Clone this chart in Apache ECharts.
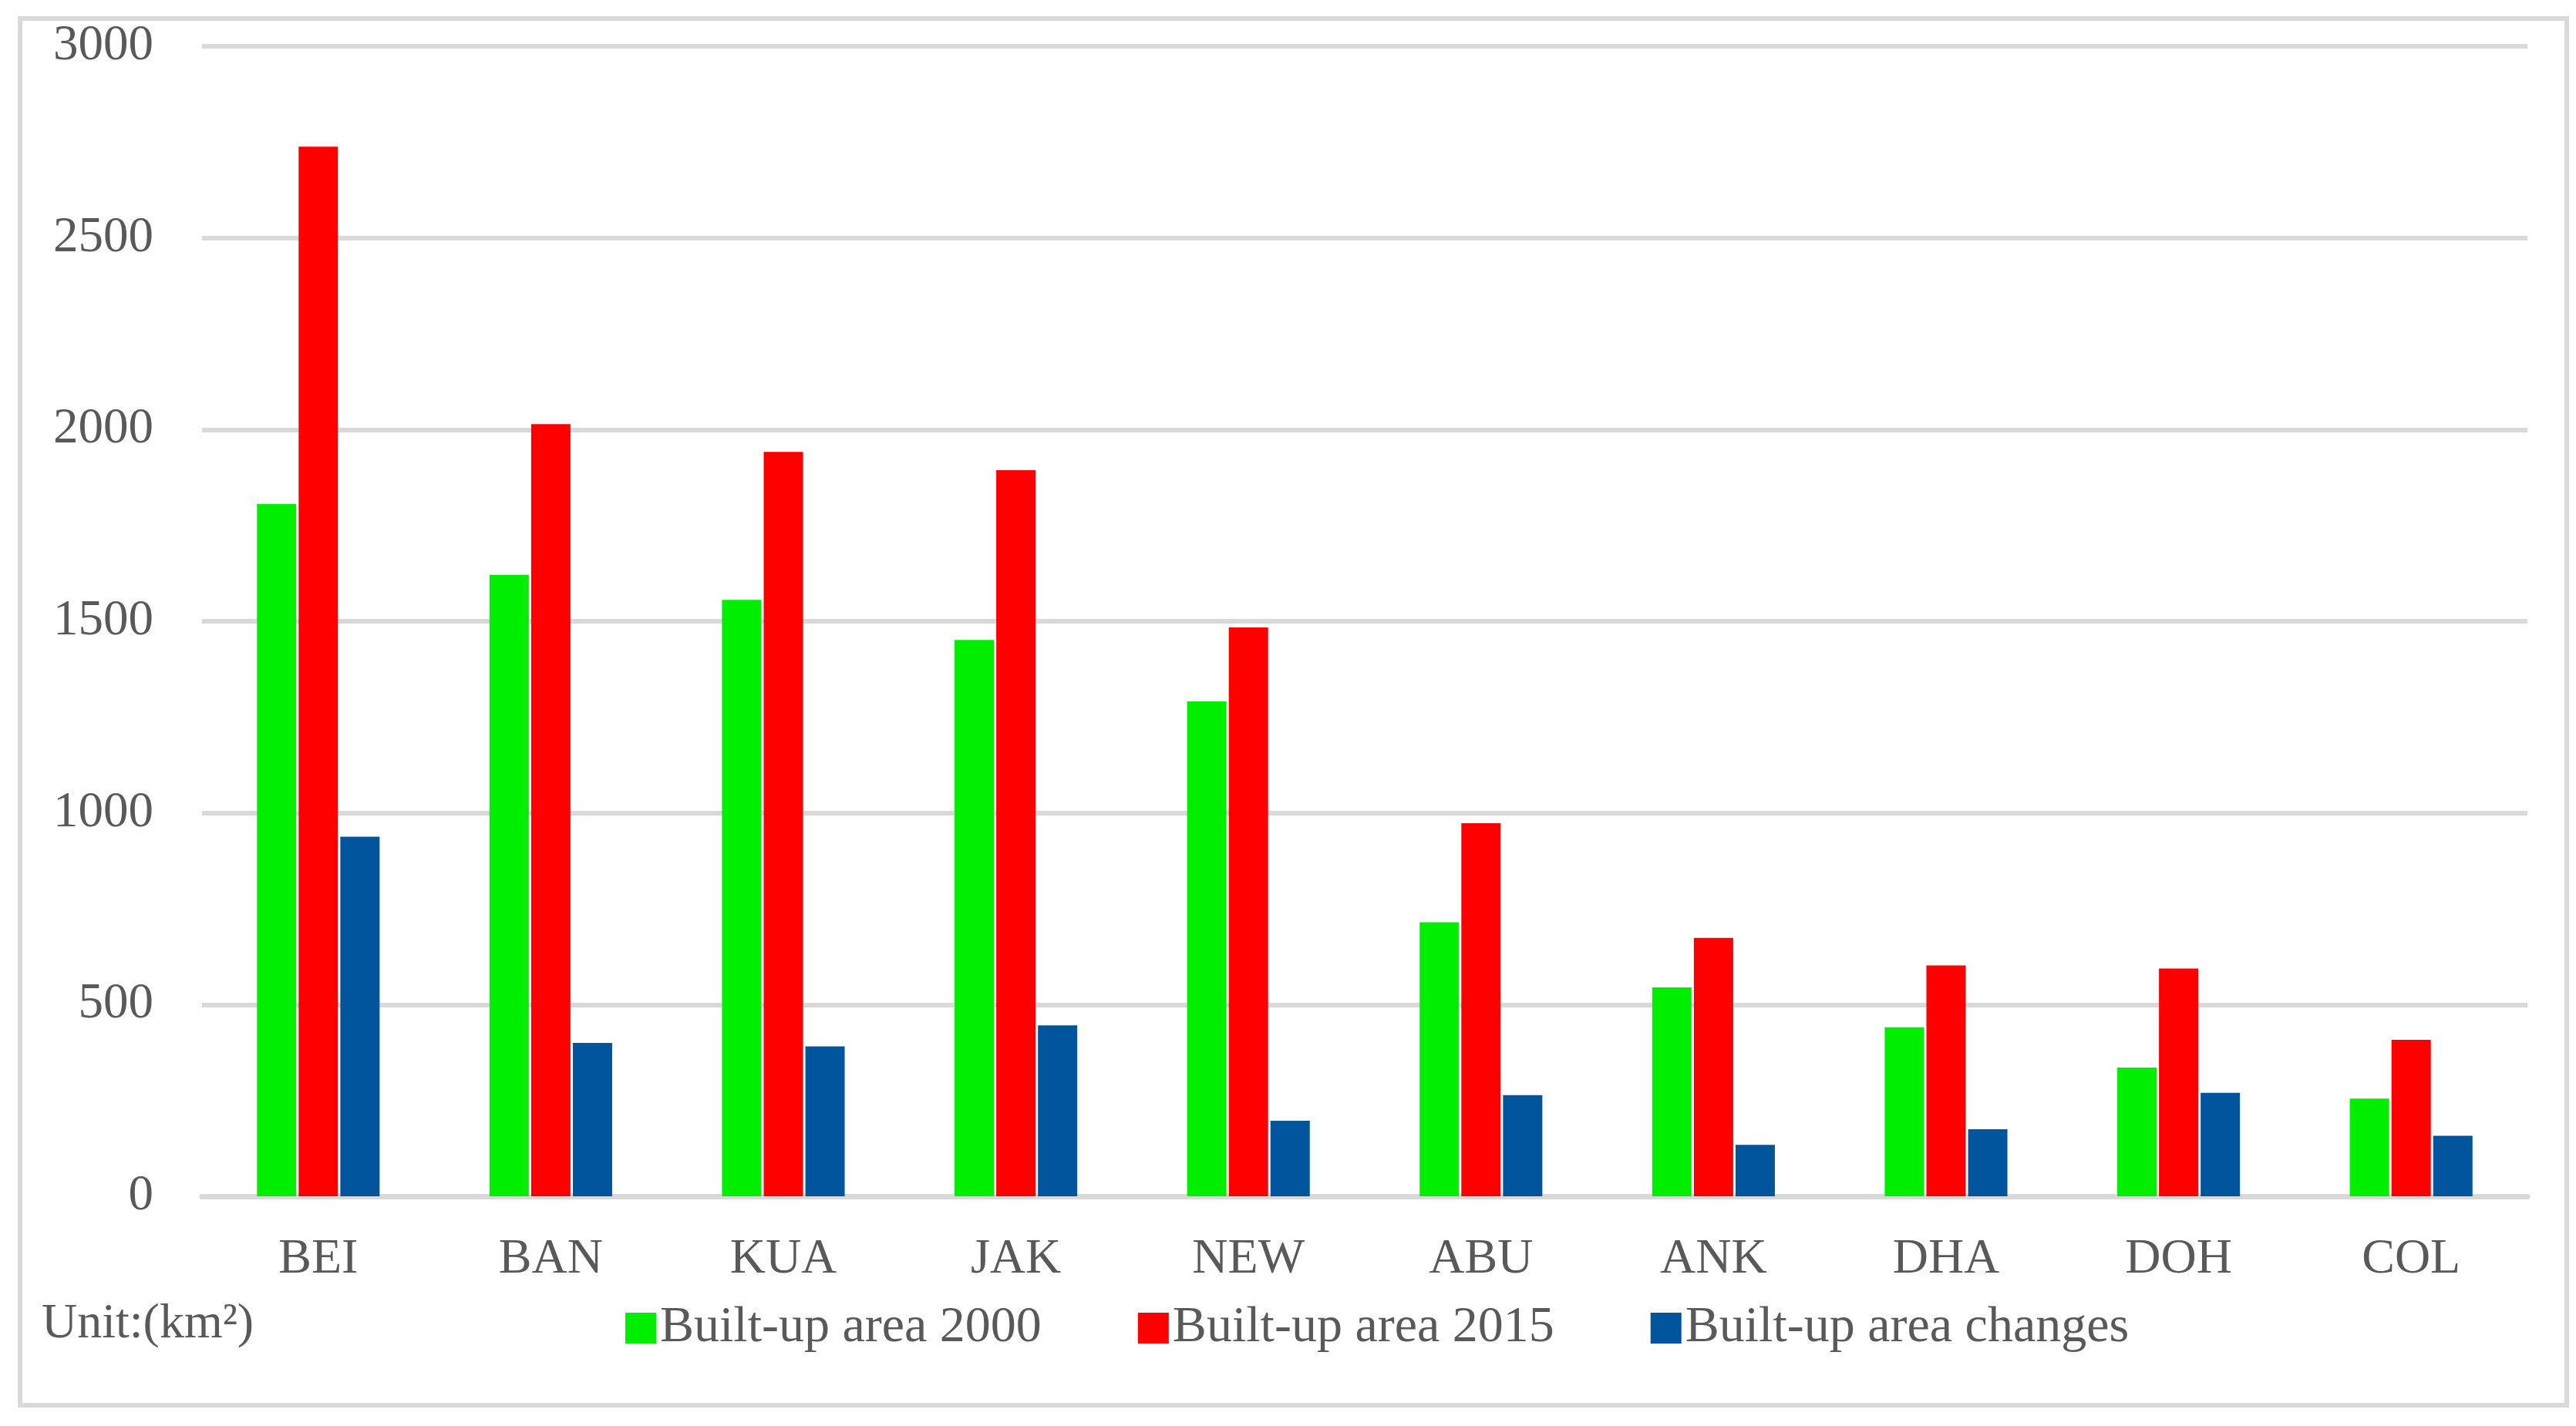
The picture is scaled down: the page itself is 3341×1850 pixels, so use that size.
<!DOCTYPE html>
<html>
<head>
<meta charset="utf-8">
<script src="https://cdn.jsdelivr.net/npm/echarts@6/dist/echarts.min.js"></script>
<style>
html,body{margin:0;padding:0;background:#fff;}
#chart{width:3341px;height:1850px;}
</style>
</head>
<body>
<div id="chart"></div>
<script>
var categories = ['BEI','BAN','KUA','JAK','NEW','ABU','ANK','DHA','DOH','COL'];
var area2000 = [1806, 1621, 1556, 1451, 1291, 715, 545, 441, 336, 255];
var area2015 = [2738, 2014, 1942, 1894, 1484, 973, 674, 602, 594, 408];
var areaChange = [938, 400, 391, 446, 197, 264, 134, 175, 270, 158];
var yTicks = [0, 500, 1000, 1500, 2000, 2500, 3000];
var seriesNames = ['Built-up area 2000', 'Built-up area 2015', 'Built-up area changes'];
var unitLabel = 'Unit:(km²)';

var font = 'Liberation Serif';
var textColor = '#595959';
var chart = echarts.init(document.getElementById('chart'));
var colors = ['#00EE00', '#FF0000', '#00559C'];
var dataSets = [area2000, area2015, areaChange];

chart.setOption({
  animation: false,
  backgroundColor: '#ffffff',
  textStyle: {fontFamily: font},
  graphic: [{
    type: 'rect',
    shape: {x: 26, y: 24, width: 3303, height: 1799},
    style: {fill: 'none', stroke: '#d9d9d9', lineWidth: 6},
    z: -1
  }, {
    type: 'text',
    left: 54,
    top: 1686,
    style: {text: unitLabel, font: '64px "Liberation Serif"', fill: textColor}
  }],
  grid: {left: 262, right: 63, top: 60, bottom: 298, containLabel: false},
  legend: {
    left: 806,
    top: 1685,
    itemWidth: 40,
    itemHeight: 40,
    itemGap: 125,
    icon: 'rect',
    textStyle: {fontFamily: font, fontSize: 66, color: textColor},
    data: seriesNames
  },
  xAxis: {
    type: 'category',
    data: categories,
    axisLine: {lineStyle: {color: '#d9d9d9', width: 7}},
    axisTick: {show: false},
    axisLabel: {fontFamily: font, fontSize: 64, color: textColor, margin: 50}
  },
  yAxis: {
    type: 'value',
    min: yTicks[0],
    max: yTicks[yTicks.length - 1],
    interval: yTicks[1] - yTicks[0],
    axisLine: {show: false},
    axisTick: {show: false},
    splitLine: {lineStyle: {color: '#d9d9d9', width: 6}},
    axisLabel: {fontFamily: font, fontSize: 65, color: textColor, margin: 63,
      formatter: function (v) { return String(v); }}
  },
  series: seriesNames.map(function (n, i) {
    return {
      name: n,
      type: 'bar',
      data: dataSets[i],
      barWidth: 51,
      barGap: '6%',
      itemStyle: {color: colors[i]}
    };
  })
});
</script>
</body>
</html>
